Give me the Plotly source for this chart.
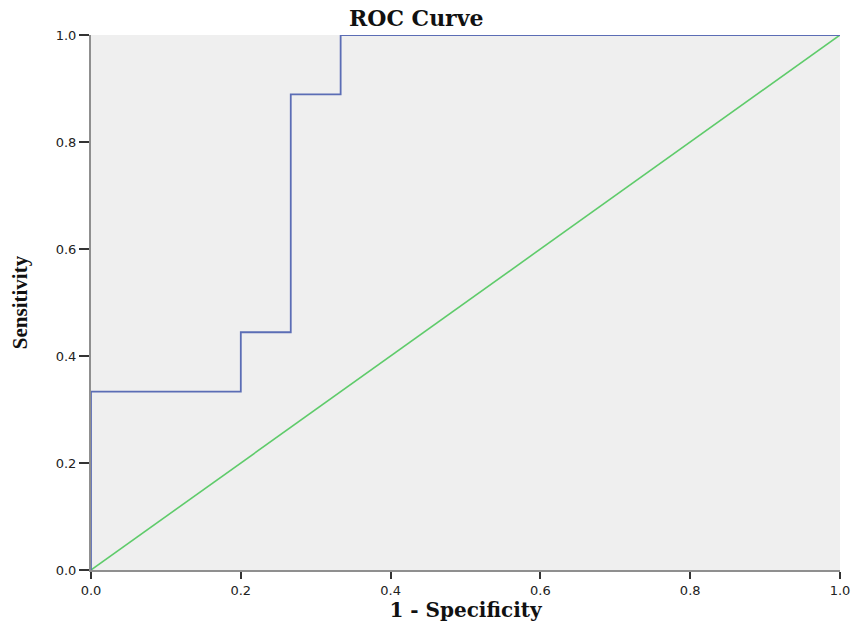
import plotly.graph_objects as go

# ROC curve coordinates (1 - specificity, sensitivity)
fpr = [0.0, 0.0, 0.2, 0.2, 0.2667, 0.2667, 0.3333, 0.3333, 1.0]
tpr = [0.0, 0.3333, 0.3333, 0.4444, 0.4444, 0.8889, 0.8889, 1.0, 1.0]

# Reference (chance) line
ref_x = [0.0, 1.0]
ref_y = [0.0, 1.0]

tick_vals = [0.0, 0.2, 0.4, 0.6, 0.8, 1.0]
tick_text = ["0.0", "0.2", "0.4", "0.6", "0.8", "1.0"]

fig = go.Figure()
fig.add_trace(go.Scatter(x=ref_x, y=ref_y, mode="lines", cliponaxis=False,
                         line=dict(color="#5fcb6b", width=1.6), hoverinfo="skip"))
fig.add_trace(go.Scatter(x=fpr, y=tpr, mode="lines", cliponaxis=False,
                         line=dict(color="#5b6db5", width=1.8), hoverinfo="skip"))

axis_common = dict(
    range=[0, 1], tickvals=tick_vals, ticktext=tick_text,
    ticks="outside", tickwidth=2, tickcolor="#333333",
    showgrid=False, zeroline=False, showline=True, linecolor="#8f8f8f", linewidth=2,
    layer="below traces", automargin=False,
    tickfont=dict(family="DejaVu Sans", size=13, color="#222222"),
)

fig.update_layout(
    width=857, height=631,
    margin=dict(l=91, r=17, t=35, b=61, autoexpand=False),
    paper_bgcolor="white", plot_bgcolor="#efefef",
    showlegend=False,
    xaxis=dict(**axis_common, ticklen=7,
               title=dict(text="<b>1 - Specificity</b>", standoff=6,
                          font=dict(family="DejaVu Serif", size=20, color="#111111"))),
    yaxis=dict(**axis_common, ticklen=10,
               title=dict(text="<b>Sensitivity</b>", standoff=22,
                          font=dict(family="Liberation Serif", size=21, color="#111111"))),
    annotations=[dict(text="<b>ROC Curve</b>", x=0.435, y=1.0, xref="paper", yref="paper",
                      xanchor="center", yanchor="bottom", yshift=2, showarrow=False,
                      font=dict(family="DejaVu Serif", size=22, color="#111111"))],
)

fig.write_html("out.html")
